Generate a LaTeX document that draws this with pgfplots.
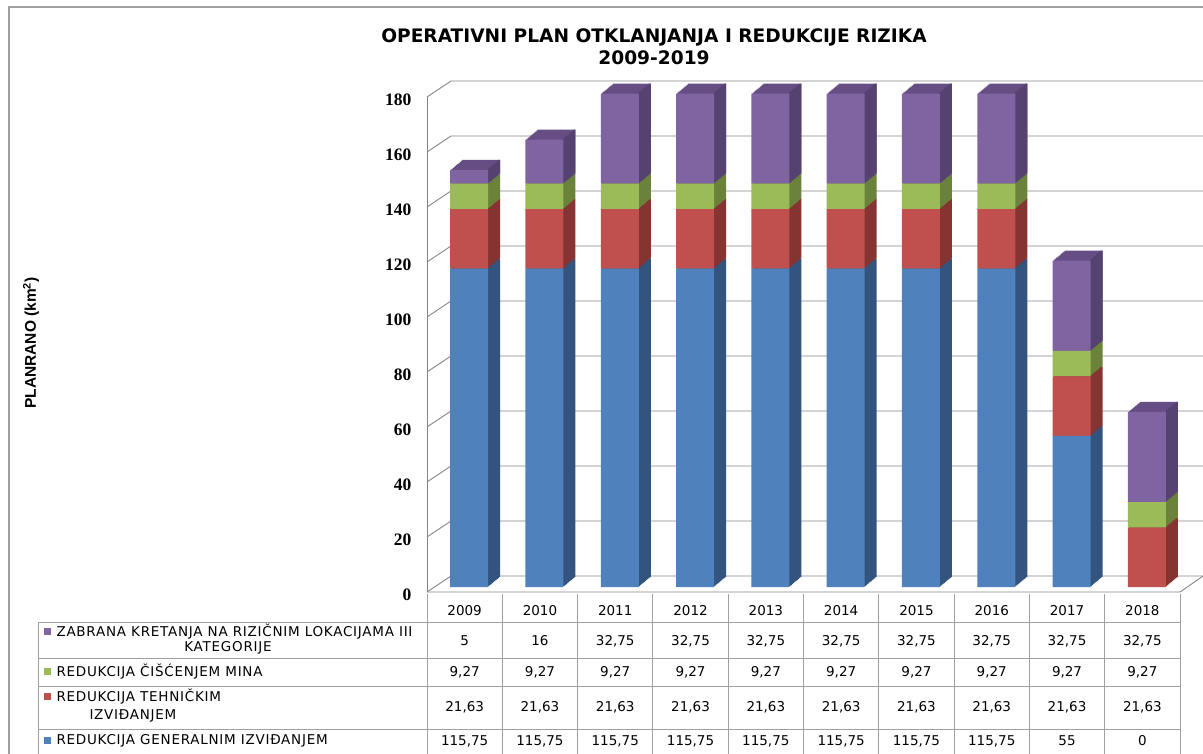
\documentclass[border=0pt]{standalone}
\usepackage{pgfplots}
\pgfplotsset{compat=1.18}
\usepackage{pgfplotstable}
\usepackage{fontspec}
\setmainfont{DejaVu Sans}
\newfontfamily\tickfont{Liberation Serif}
\newfontfamily\labfont{Liberation Sans}
\newfontfamily\tabfont[LetterSpace=5.5]{DejaVu Sans}
\newfontfamily\numfont{DejaVu Sans}

\definecolor{cblue}{RGB}{79,129,189}
\definecolor{cred}{RGB}{192,80,77}
\definecolor{cgreen}{RGB}{155,187,89}
\definecolor{cpurple}{RGB}{128,100,162}
\definecolor{sblue}{RGB}{50,84,126}
\definecolor{sred}{RGB}{133,52,50}
\definecolor{sgreen}{RGB}{106,130,58}
\definecolor{spurple}{RGB}{86,66,112}
\definecolor{tpurple}{RGB}{102,78,132}
\definecolor{gridc}{RGB}{134,134,134}
\definecolor{tabc}{RGB}{160,160,160}

\pgfplotsset{barax/.style={
  anchor=south west, scale only axis, width=753pt, height=495pt,
  xmin=-0.5, xmax=9.5, ymin=0, ymax=180,
  hide axis, clip=false, ybar stacked, bar width=38pt}}

\pgfplotstableread{
x gen teh cis zab
0 115.75 21.63 9.27 5
1 115.75 21.63 9.27 16
2 115.75 21.63 9.27 32.75
3 115.75 21.63 9.27 32.75
4 115.75 21.63 9.27 32.75
5 115.75 21.63 9.27 32.75
6 115.75 21.63 9.27 32.75
7 115.75 21.63 9.27 32.75
8 55 21.63 9.27 32.75
9 0 21.63 9.27 32.75
}\datatable

\begin{document}
\begin{tikzpicture}
\useasboundingbox (0pt,0pt) rectangle (1203pt,-753pt);
\clip (0pt,0pt) rectangle (1203pt,-753pt);
\fill[white] (0pt,0pt) rectangle (1203pt,-753pt);
% outer border
\draw[tabc, line width=1.2pt] (9pt,-760pt) -- (9pt,-7pt) -- (1210pt,-7pt);

% title
\node[font=\bfseries\fontsize{18.6}{22}\selectfont, align=center] at (654pt,-47pt)
  {OPERATIVNI PLAN OTKLANJANJA I REDUKCIJE RIZIKA\\2009-2019};
% y label
\node[font=\labfont\bfseries\fontsize{15.5}{17}\selectfont, rotate=90] at (31pt,-343pt) {PLANRANO (km\textsuperscript{2})};

% walls (frame)
\foreach \v in {0,20,...,180} {
  \draw[gridc, line width=0.9pt] (427pt,{-592pt+\v*2.75pt}) -- ++(24pt,16pt) -- (1215pt,{-576pt+\v*2.75pt});
}
\draw[gridc, line width=0.9pt] (427pt,-592pt) -- (427pt,-97pt);
\draw[gridc, line width=0.9pt] (427pt,-592pt) -- (1180pt,-592pt) -- (1206pt,-574pt);

\begin{axis}[
  at={(427pt,-592pt)}, anchor=south west,
  scale only axis, width=753pt, height=495pt,
  xmin=-0.5, xmax=9.5, ymin=0, ymax=180,
  axis line style={draw=none},
  xtick=\empty, ytick={0,20,...,180},
  major tick length=0pt,
  /pgf/number format/assume math mode=true,
  yticklabel style={font=\tickfont\bfseries\fontsize{17.5}{17.5}\selectfont, xshift=-12pt, yshift=-3pt},
]
\end{axis}

% depth of the bars: swept copies, back to front
\foreach \i in {10,9,...,1} {
  \pgfmathsetmacro\sx{427+1.2*\i}
  \pgfmathsetmacro\sy{-587+1.0*\i}
  \begin{axis}[barax, at={(\sx pt,\sy pt)}]
  \addplot[fill=sblue, draw=none, bar shift=4.5pt] table[x=x, y=gen] {\datatable};
  \addplot[fill=sred, draw=none, bar shift=4.5pt] table[x=x, y=teh] {\datatable};
  \addplot[fill=sgreen, draw=none, bar shift=4.5pt] table[x=x, y=cis] {\datatable};
  \addplot[fill=tpurple, draw=none, bar shift=4.5pt] table[x=x, y=zab] {\datatable};
  \end{axis}
}
% side face of the top segment (darker than its top face)
\foreach \i in {10,9,...,1} {
  \pgfmathsetmacro\sx{427+1.2*\i}
  \pgfmathsetmacro\sy{-587+1.0*\i}
  \begin{axis}[barax, at={(\sx pt,\sy pt)}, bar width=2pt]
  \addplot[fill=none, draw=none, bar shift=22.5pt] table[x=x, y=gen] {\datatable};
  \addplot[fill=none, draw=none, bar shift=22.5pt] table[x=x, y=teh] {\datatable};
  \addplot[fill=none, draw=none, bar shift=22.5pt] table[x=x, y=cis] {\datatable};
  \addplot[fill=spurple, draw=none, bar shift=22.5pt] table[x=x, y=zab] {\datatable};
  \end{axis}
}
% front faces
\begin{axis}[barax, at={(427pt,-587pt)}]
\addplot[fill=cblue, draw=none, bar shift=4.5pt] table[x=x, y=gen] {\datatable};
\addplot[fill=cred, draw=none, bar shift=4.5pt] table[x=x, y=teh] {\datatable};
\addplot[fill=cgreen, draw=none, bar shift=4.5pt] table[x=x, y=cis] {\datatable};
\addplot[fill=cpurple, draw=none, bar shift=4.5pt] table[x=x, y=zab] {\datatable};
\end{axis}

% data table
\foreach \yy in {622,658,686,729} {
  \draw[tabc, line width=0.9pt] (38pt,-\yy pt) -- (1180pt,-\yy pt);
}
\draw[tabc, line width=0.9pt] (38pt,-622pt) -- (38pt,-760pt);
\foreach \k in {0,...,10} {
  \draw[tabc, line width=0.9pt] ({427pt+\k*75.3pt},-594pt) -- ({427pt+\k*75.3pt},-760pt);
}
\foreach \yr [count=\k from 0] in {2009,2010,2011,2012,2013,2014,2015,2016,2017,2018} {
  \node[font=\numfont\fontsize{13.5}{15}\selectfont] at ({464.65pt+\k*75.3pt},-611pt) {\yr};
}
\foreach \val [count=\k from 0] in {5,16,{32,75},{32,75},{32,75},{32,75},{32,75},{32,75},{32,75},{32,75}} {
  \node[font=\numfont\fontsize{13.5}{15}\selectfont] at ({464.65pt+\k*75.3pt},-641pt) {\val};
}
\foreach \k in {0,...,9} {
  \node[font=\numfont\fontsize{13.5}{15}\selectfont] at ({464.65pt+\k*75.3pt},-672pt) {9,27};
  \node[font=\numfont\fontsize{13.5}{15}\selectfont] at ({464.65pt+\k*75.3pt},-707pt) {21,63};
}
\foreach \val [count=\k from 0] in {{115,75},{115,75},{115,75},{115,75},{115,75},{115,75},{115,75},{115,75},55,0} {
  \node[font=\numfont\fontsize{13.5}{15}\selectfont] at ({464.65pt+\k*75.3pt},-741pt) {\val};
}
% row labels
\fill[cpurple] (44pt,-628pt) rectangle (51pt,-635pt);
\node[font=\tabfont\fontsize{13.5}{15}\selectfont, anchor=west] at (53pt,-631.5pt) {ZABRANA KRETANJA NA RIZIČNIM LOKACIJAMA III};
\node[font=\tabfont\fontsize{13.5}{15}\selectfont] at (228pt,-648pt) {KATEGORIJE};
\fill[cgreen] (44pt,-668pt) rectangle (51pt,-675pt);
\node[font=\tabfont\fontsize{13.5}{15}\selectfont, anchor=west] at (53pt,-671.5pt) {REDUKCIJA ČIŠĆENJEM MINA};
\fill[cred] (44pt,-693pt) rectangle (51pt,-700pt);
\node[font=\tabfont\fontsize{13.5}{15}\selectfont, anchor=west] at (53pt,-696.5pt) {REDUKCIJA TEHNIČKIM};
\node[font=\tabfont\fontsize{13.5}{15}\selectfont, anchor=west] at (86pt,-716pt) {IZVIĐANJEM};
\fill[cblue] (44pt,-737pt) rectangle (51pt,-744pt);
\node[font=\tabfont\fontsize{13.5}{15}\selectfont, anchor=west] at (53pt,-740.5pt) {REDUKCIJA GENERALNIM IZVIĐANJEM};
\end{tikzpicture}
\end{document}
